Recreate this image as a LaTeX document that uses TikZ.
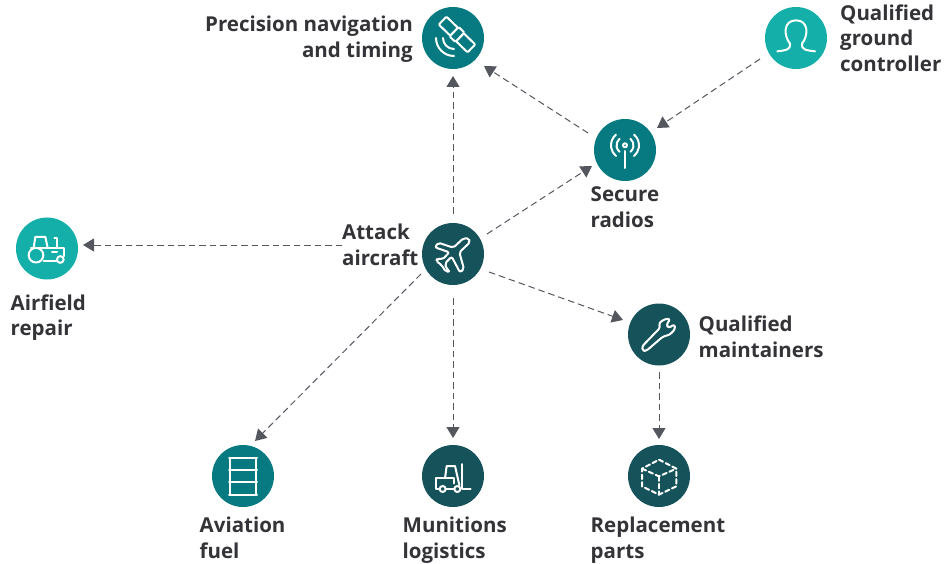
\documentclass[tikz,border=0pt]{standalone}
\usepackage{fontspec}
\setmainfont{Open Sans}
\usetikzlibrary{arrows.meta,calc}
\definecolor{dk}{HTML}{15525A}
\definecolor{md}{HTML}{067A80}
\definecolor{lt}{HTML}{14AFA8}
\definecolor{ln}{HTML}{55575F}
\definecolor{tx}{HTML}{333338}
\tikzset{
  x=1pt,y=1pt,
  disc/.style={circle,minimum size=62pt,inner sep=0pt,outer sep=0pt,fill=#1},
  lab/.style={inner sep=0pt,text=tx,font=\fontsize{20.5}{25.7}\selectfont\bfseries},
  conn/.style={draw=ln,line width=1pt,dash pattern=on 6.5pt off 4pt,-{Triangle[length=11pt,width=13pt]}},
  ico/.style={draw=white,line width=2pt,line join=round,line cap=round},
  zm/.style={x=0.3333pt,y=-0.3333pt}
}
\begin{document}
\begin{tikzpicture}
\useasboundingbox (0,0) rectangle (945,-564);
\node[disc=md] (sat) at (453,-38) {};
\node[disc=lt] (person) at (796,-38) {};
\node[disc=md] (radio) at (625,-150) {};
\node[disc=dk] (plane) at (453,-254) {};
\node[disc=lt] (tractor) at (47,-248.5) {};
\node[disc=dk] (wrench) at (659,-334.5) {};
\node[disc=md] (barrel) at (243,-476) {};
\node[disc=dk] (fork) at (453,-476) {};
\node[disc=dk] (cube) at (659,-476) {};

\node[lab,anchor=east,align=right] (tsat) at (413,-39) {Precision navigation\\and timing};
\node[lab,anchor=west,align=left] (tperson) at (840,-38) {Qualified\\ground\\controller};
\node[lab,anchor=west,align=left] (tradio) at (590.5,-207) {Secure\\radios};
\node[lab,anchor=west,align=left] (tplane) at (342,-245) {Attack\\aircraft};
\node[lab,anchor=west,align=left] (ttractor) at (10.5,-317.5) {Airfield\\repair};
\node[lab,anchor=west,align=left] (twrench) at (698.5,-337) {Qualified\\maintainers};
\node[lab,anchor=west,align=left] (tbarrel) at (199.5,-538) {Aviation\\fuel};
\node[lab,anchor=west,align=left] (tfork) at (402.5,-540) {Munitions\\logistics};
\node[lab,anchor=west,align=left] (tcube) at (590.5,-540) {Replacement\\parts};

\draw[conn] ($(plane)+(0,40)$) -- ($(sat)+(0,-38)$);
\draw[conn] ($(radio)+(-37,17)$) -- ($(sat)+(31,-28)$);
\draw[conn] ($(person)+(-36,-21)$) -- ($(radio)+(32,22)$);
\draw[conn] ($(plane)+(34,20)$) -- ($(radio)+(-33,-16)$);
\draw[conn] ($(plane)+(36,-18)$) -- ($(wrench)+(-36,14.5)$);
\draw[conn] ($(wrench)+(0,-37.5)$) -- ($(cube)+(0,37)$);
\draw[conn] ($(plane)+(0,-44)$) -- ($(fork)+(0,38)$);
\draw[conn] ($(plane)+(-32,-20)$) -- ($(barrel)+(12,35)$);
\draw[conn] (tplane.west |- 0,-245) -- ($(tractor)+(36,3.5)$);

% satellite
\begin{scope}[shift={(sat)},shift={(4,3.5)},rotate=-44]
\draw[ico,rounded corners=1pt] (-20,-5.5) rectangle (-4,5.5);
\draw[ico,rounded corners=1pt] (4,-5.5) rectangle (20,5.5);
\draw[ico,fill=md,rounded corners=1pt] (-4,-6.5) rectangle (4,6.5);
\end{scope}
\begin{scope}[shift={(sat)}]
\draw[ico] ($(1,0)+(180:18)$) arc (180:270:18);
\draw[ico] ($(1,0)+(180:11)$) arc (180:270:11);
\end{scope}
% radio
\begin{scope}[shift={(radio)}]
\draw[ico] (0,-1) -- (0,-18);
\draw[ico] (0,4.7) circle (2);
\foreach \r in {8.5,14}{
\draw[ico] ($(0,4.7)+(50:\r)$) arc (50:-50:\r);
\draw[ico] ($(0,4.7)+(130:\r)$) arc (130:230:\r);}
\end{scope}
% person
\begin{scope}[shift={(person)},zm,shift={(-138,-113)}]
\draw[ico] (82,153) .. controls (105,150) and (122,150) .. (120,130) .. controls (100,105) and (100,60) .. (138,60) .. controls (176,60) and (176,105) .. (156,130) .. controls (154,150) and (171,150) .. (195,153);
\end{scope}
% plane
\begin{scope}[shift={(plane)},zm,shift={(-159,-127)}]
\draw[ico,rounded corners=2pt] (207,80) -- (210,92) -- (178,122) -- (192,172) -- (180,182) -- (155,135) -- (135,155) -- (140,172) -- (150,180) -- (137,180) -- (125,160) -- (108,148) -- (112,140) -- (128,143) -- (148,122) -- (105,107) -- (115,93) -- (160,108) -- (190,80) -- cycle;
\end{scope}
% tractor
\begin{scope}[shift={(tractor)},zm,shift={(-140,-127)}]
\draw[ico] (100,125) -- (105,92) -- (135,92) -- (142,125);
\draw[ico] (107,147) circle (22);
\draw[ico] (92,125) -- (190,125) -- (190,150);
\draw[ico] (130,165) -- (170,165);
\draw[ico] (180,160) circle (10);
\draw[ico] (162,95) -- (170,95) -- (170,125);
\draw[ico] (155,137) -- (170,137);
\end{scope}
% barrel
\begin{scope}[shift={(barrel)},zm,shift={(-129,-138)}]
\draw[ico] (90,85) rectangle (168,195);
\draw[ico] (87,85) -- (171,85);
\draw[ico] (87,120) -- (171,120);
\draw[ico] (87,155) -- (171,155);
\draw[ico] (87,195) -- (171,195);
\end{scope}
% forklift
\begin{scope}[shift={(fork)},zm,shift={(-759,-138)}]
\draw[ico] (787,102) -- (787,178) -- (812,178);
\draw[ico] (735,145) -- (740,108) -- (765,108) -- (778,165);
\draw[ico] (718,178) -- (708,178) -- (708,145) -- (762,145) -- (762,160);
\draw[ico] (728,177) circle (9);
\draw[ico] (772,177) circle (9);
\draw[ico] (737,178) -- (763,178);
\end{scope}
% wrench
\begin{scope}[shift={(wrench)},zm,shift={(-146,-119)}]
\draw[ico,rounded corners=2.5pt] (95,155) -- (150,98) -- (145,85) -- (165,72) -- (180,72) -- (168,90) -- (175,100) -- (192,88) -- (195,102) -- (178,120) -- (158,125) -- (108,168) -- (97,168) -- cycle;
\end{scope}
% cube
\begin{scope}[shift={(cube)},zm,shift={(-146,-544)}]
\draw[ico,dash pattern=on 4.5pt off 3pt] (146,495) -- (198,522) -- (198,575) -- (146,600) -- (95,575) -- (95,522) -- cycle;
\draw[ico,dash pattern=on 4.5pt off 3pt] (95,522) -- (146,545) -- (198,522);
\draw[ico,dash pattern=on 4.5pt off 3pt] (146,545) -- (146,600);
\end{scope}
\end{tikzpicture}
\end{document}
